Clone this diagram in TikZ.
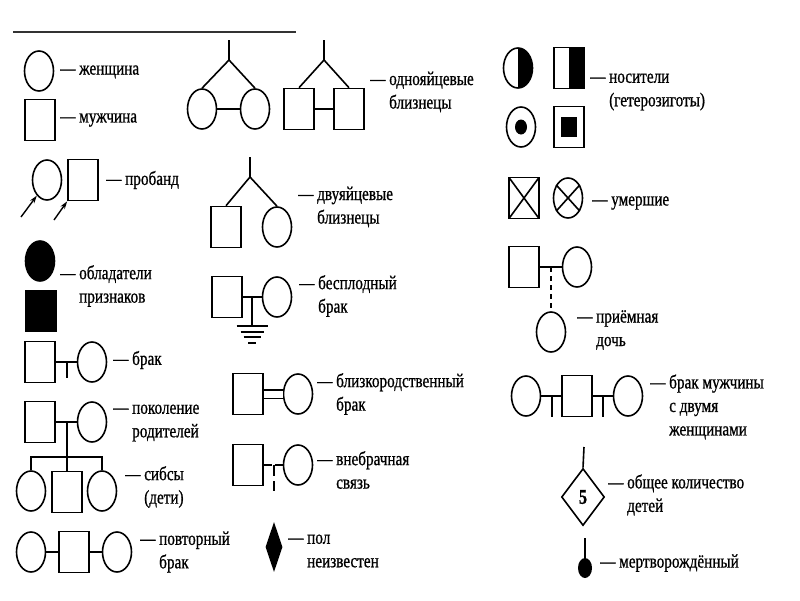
\documentclass[tikz,border=0pt]{standalone}
\usepackage{fontspec}
\setmainfont{Liberation Serif}[FakeStretch=0.78,FakeBold=0.8]
\usetikzlibrary{shapes.geometric,arrows.meta}
\newcommand{\lblind}{\hphantom{— }}

\begin{document}
\begin{tikzpicture}
[x=1pt,y=-1pt,
  female/.style={shape=ellipse,draw,line width=1.6pt,inner sep=0pt,minimum width=29pt,minimum height=40pt},
  male/.style={shape=rectangle,draw,line width=1.6pt,inner sep=0pt,minimum width=30pt,minimum height=41pt},
  filled/.style={fill=black},
  halffill/.style={path picture={\fill (path picture bounding box.north) rectangle (path picture bounding box.south east);}},
  linedecorate/.style={-,line width=1.6pt},
  arrowdecorate/.style={-{Stealth[length=8pt,width=5pt]},line width=1.4pt},
  labeldecorate/.style={anchor=west,align=left,inner sep=0pt,font=\fontsize{19.5}{23.5}\selectfont}]
\useasboundingbox (0,0) rectangle (800,600);
%% top rule
\coordinate (rulea) at (13,32);
\coordinate (ruleb) at (296,32);
\draw[line width=1.2pt,black!80] (rulea) -- (ruleb);

%% women
\foreach \nodename/\x/\y in {w/39/71, prf/47/180, bf/92/362, paf/92/422, c1/31/491, c3/102/491,
  rf1/31/552, rf2/117/552, tf1/202/109, tf2/255/109, df/277/227, iff/277/297, cf/298/394, ef/298/465,
  xf/568/198, acf/577/267, ad/551/332, wf1/526/396, wf2/628/396} {
  \node (\nodename) at (\x,\y) [female] {};
}
%% men
\foreach \nodename/\x/\y in {m/40/120, prm/83/180, bm/40/362, pam/40/422, c2/67/492, rm/74/552,
  tm1/299/109, tm2/349/109, dm/226/227, im/227/297, cm/248/394, em/248/465,
  asq/524/267, wm/577/396} {
  \node (\nodename) at (\x,\y) [male] {};
}
%% affected, carriers, deceased
\node (af) at (40,261) [female,filled] {};
\node (am) at (41,311) [male,filled] {};
\node (hf) at (518,68) [female,halffill] {};
\node (hm) at (569,68) [male,halffill] {};
\node (dotf) at (521,127) [female,path picture={\fill (path picture bounding box.center) ellipse [x radius=6pt,y radius=7.5pt];}] {};
\node (dotm) at (569,127) [male,path picture={\fill (path picture bounding box.center) ++(-8pt,-10pt) rectangle ++(16pt,20pt);}] {};
\node (xm) at (524,198) [male,path picture={\draw[line width=1.6pt] (path picture bounding box.north west) -- (path picture bounding box.south east)
  (path picture bounding box.north east) -- (path picture bounding box.south west);}] {};
\draw[linedecorate] (xf.48) -- (xf.228) (xf.132) -- (xf.312);

%% proband arrows
\coordinate (arrf) at (21,217);
\coordinate (arrm) at (54,220);
\draw[arrowdecorate] (arrf) -- (prf.-123);
\draw[arrowdecorate] (arrm) -- (prm.south west);

%% marriages
\path
\foreach \startnode/\endnode in {bm/bf, pam/paf, rf1/rm, rm/rf2, tf1/tf2, tm1/tm2, im/iff, asq/acf, wf1/wm, wm/wf2} {
  (\startnode) edge[linedecorate] (\endnode)
};
\coordinate (bst) at (67,378);
\draw[linedecorate] (bst |- bm) -- (bst);
\coordinate (wst1) at (552,417);
\coordinate (wst2) at (603,417);
\draw[linedecorate] (wst1 |- wm) -- (wst1) (wst2 |- wm) -- (wst2);

%% parents and sibs
\coordinate (sib) at (67,457);
\draw[linedecorate] (sib |- pam) -- (sib);
\draw[linedecorate] (c1) |- (sib) -| (c3);
\draw[linedecorate] (sib) -- (c2);

%% twins
\foreach \apex/\top/\x/\y/\left/\right in {tfa/tft/229/60/tf1/tf2, tma/tmt/324/60/tm1/tm2, dza/dzt/250/177/dm/df} {
  \coordinate (\apex) at (\x,\y);
  \coordinate (\top) at (\x,\y-20);
  \draw[linedecorate] (\top) -- (\apex);
  \draw[linedecorate] (\left.north) -- (\apex) -- (\right.north);
}

%% infertile marriage
\coordinate (gnd) at (252,326);
\draw[linedecorate] (gnd |- im) -- (gnd);
\foreach \dy/\ww in {0/31, 6/23, 11/17, 17/8} {
  \draw[line width=1.4pt] (gnd) ++(-\ww/2,\dy) -- ++(\ww,0);
}

%% consanguineous and extramarital
\draw[linedecorate,double,double distance=7pt] (cm) -- (cf);
\coordinate (ext) at (274,491);
\draw[linedecorate,dash pattern=on 8pt off 3pt on 30pt] (em) -- (ef);
\draw[linedecorate,dash pattern=on 11pt off 5pt] (ext |- em) -- (ext);

%% unknown sex
\node (unk) at (274,547) [shape=diamond,fill,inner sep=0pt,minimum width=17pt,minimum height=50pt] {};

%% adopted daughter
\draw[linedecorate,dash pattern=on 5pt off 4pt] (ad.north |- asq) -- (ad.north);

%% number of children, stillborn
\node (tot) at (583,497) [shape=diamond,draw,line width=1.6pt,inner sep=0pt,minimum width=43pt,minimum height=57pt,font=\fontsize{21}{21}\selectfont\bfseries] {5};
\coordinate (tott) at (584,447);
\draw[linedecorate] (tott) -- (tot.north);
\node (sb) at (585,568) [shape=ellipse,fill,inner sep=0pt,minimum width=14pt,minimum height=20pt] {};
\coordinate (sbt) at (585,538);
\draw[linedecorate] (sbt) -- (sb.north);

%% labels
\foreach \lblname/\x/\y/\lbltext in {
  lw/60/72/{— женщина},
  lm/60/120/{— мужчина},
  lpr/106/180/{— пробанд},
  laff/60/286/{— обладатели\\\lblind признаков},
  lb/113/360/{— брак},
  lpa/113/423/{— поколение\\\lblind родителей},
  lsib/125/487/{— сибсы\\\lblind (дети)},
  lrem/140/552/{— повторный\\\lblind брак},
  lmz/370/92/{— однояйцевые\\\lblind близнецы},
  ldz/298/207/{— двуяйцевые\\\lblind близнецы},
  linf/299/296/{— бесплодный\\\lblind брак},
  lcon/317/394/{— близкородственный\\\lblind брак},
  lext/317/470/{— внебрачная\\\lblind связь},
  lunk/288/551/{— пол\\\lblind неизвестен},
  lcar/590/92/{— носители\\\lblind (гетерозиготы)},
  ldec/592/203/{— умершие},
  lad/577/330/{— приёмная\\\lblind дочь},
  lwiv/650/407/{— брак мужчины\\\lblind с двумя\\\lblind женщинами},
  ltot/608/495/{— общее количество\\\lblind детей},
  lsb/600/563/{— мертворождённый}} {
  \node (\lblname) at (\x,\y) [labeldecorate] {\lbltext};
}
\end{tikzpicture}
\end{document}
